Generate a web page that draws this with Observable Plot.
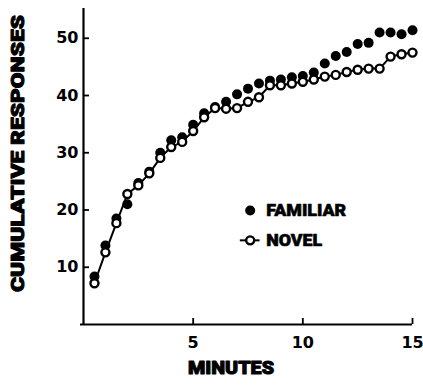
<!DOCTYPE html>
<html><head><meta charset="utf-8">
<script src="https://cdn.jsdelivr.net/npm/d3@7"></script>
<script src="https://cdn.jsdelivr.net/npm/@observablehq/plot@0.6"></script>
<style>body{margin:0;background:#fff}</style>
</head><body><div id="chart"></div>
<script>
const minutes = [0.5,1,1.5,2,2.5,3,3.5,4,4.5,5,5.5,6,6.5,7,7.5,8,8.5,9,9.5,10,10.5,11,11.5,12,12.5,13,13.5,14,14.5,15];
const familiar = [8.4,13.8,18.5,21.0,24.7,26.7,30.0,32.2,32.7,34.9,36.9,38.0,38.9,40.2,41.2,42.1,42.6,42.8,43.2,43.4,44.0,45.6,46.9,47.6,49.0,49.2,51.0,51.0,50.7,51.4];
const novel = [7.2,12.6,17.7,22.8,24.3,26.4,29.1,31.0,31.9,33.8,36.2,37.8,37.7,37.8,38.9,39.7,41.8,41.8,42.1,42.4,42.8,43.3,43.6,44.1,44.5,44.7,44.7,46.8,47.2,47.5];
const xTicks = [5,10,15];
const yTicks = [10,20,30,40,50];
const seriesLabels = ["FAMILIAR","NOVEL"];
const xTitle = "MINUTES";
const yTitle = "CUMULATIVE RESPONSES";

const famData = minutes.map((t,i)=>({t, v: familiar[i]}));
const novData = minutes.map((t,i)=>({t, v: novel[i]}));

// legend placement (inside the frame, data space)
const legendX = 7.6;
const legendYs = [19.9, 14.7];
const legend = seriesLabels.map((s,i)=>({s, y: legendYs[i]}));

const heavy = "Roboto, 'DejaVu Sans', sans-serif";
const numFont = "'DejaVu Sans', sans-serif";

const chart = Plot.plot({
  width: 423, height: 385,
  marginLeft: 83, marginRight: 11, marginTop: 8, marginBottom: 61,
  x: {domain: [0, 15]},
  y: {domain: [0, 55.2]},
  style: {background: "#fff", color: "#000", fontFamily: numFont},
  marks: [
    Plot.ruleX([0], {strokeWidth: 2.2}),
    Plot.ruleY([0], {strokeWidth: 2.2, insetLeft: -3}),
    Plot.axisY(yTicks, {tickSize: 0, tickPadding: 5, fontSize: 16, fontWeight: "bold", fontFamily: numFont, label: null}),
    Plot.axisY(yTicks, {tickSize: 6, dx: 6, strokeWidth: 1.8, tickFormat: () => "", label: null}),
    Plot.axisX(xTicks, {tickSize: 0, tickPadding: 12, fontSize: 16, fontWeight: "bold", fontFamily: numFont, label: null}),
    Plot.axisX(xTicks, {tickSize: 6, dy: -6, strokeWidth: 1.8, tickFormat: () => "", label: null}),
    Plot.line(novData, {x: "t", y: "v", stroke: "#000", strokeWidth: 2}),
    Plot.dot(famData, {x: "t", y: "v", r: 5, fill: "#000", stroke: null}),
    Plot.dot(novData, {x: "t", y: "v", r: 4, fill: "#fff", stroke: "#000", strokeWidth: 2.4}),
    // legend
    Plot.dot([legend[0]], {x: () => legendX, y: "y", r: 5, fill: "#000", stroke: null}),
    Plot.ruleY([legend[1]], {y: "y", x1: () => legendX - 0.45, x2: () => legendX + 0.45, strokeWidth: 2}),
    Plot.dot([legend[1]], {x: () => legendX, y: "y", r: 4, fill: "#fff", stroke: "#000", strokeWidth: 2.4}),
    Plot.text(legend, {x: () => legendX, y: "y", text: "s", dx: 16, textAnchor: "start", fontSize: 17, fontWeight: 900, fontFamily: heavy, fill: "#000", stroke: "#000", strokeWidth: 0.6}),
    // axis titles
    Plot.text([xTitle], {frameAnchor: "bottom", textAnchor: "middle", dx: -17, dy: 49, fontSize: 19, fontWeight: 900, fontFamily: heavy, fill: "#000", stroke: "#000", strokeWidth: 1}),
    Plot.text([yTitle], {frameAnchor: "left", textAnchor: "middle", dx: -66, dy: -13, rotate: -90, fontSize: 19, fontWeight: 900, fontFamily: heavy, fill: "#000", stroke: "#000", strokeWidth: 1})
  ]
});
document.getElementById("chart").appendChild(chart);
const fitText = (label, len) => d3.select(chart).selectAll("text")
  .filter(function(){ return this.textContent === label; })
  .attr("textLength", len).attr("lengthAdjust", "spacingAndGlyphs");
fitText(xTitle, 86);
fitText(yTitle, 277);
fitText(seriesLabels[0], 80);
fitText(seriesLabels[1], 56);
</script>
</body></html>
